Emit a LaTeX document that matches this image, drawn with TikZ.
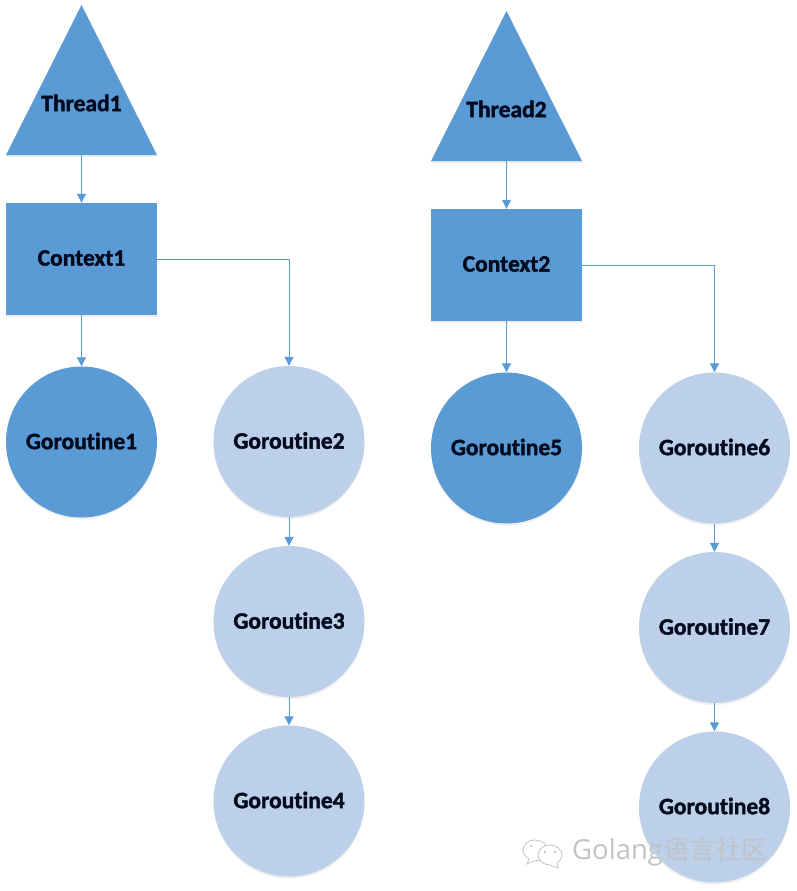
\documentclass[tikz,border=0pt]{standalone}
\usepackage{fontspec}
\setmainfont{Carlito}[Ligatures=NoCommon,BoldFeatures={FakeBold=1.6}]
\newfontfamily\wmfont{Open Sans}
\newfontfamily\wmcjk{Noto Sans CJK SC}
\usetikzlibrary{arrows.meta,shadows}
\definecolor{dk}{HTML}{5B9BD5}
\definecolor{lt}{HTML}{BDD0E9}
\definecolor{ink}{HTML}{020A1E}
\definecolor{wm}{HTML}{C0C4C8}
\tikzset{
  softshadow/.style={general shadow={fill=black!60,opacity=.10,shadow xshift=0pt,shadow yshift=-2pt}},
  lab/.style={font=\fontsize{23.5}{26}\selectfont\bfseries,text=ink,inner sep=0pt,yshift=1pt},
  darkgo/.style={circle,fill=dk,minimum size=151pt,inner sep=0pt,softshadow},
  lightgo/.style={circle,fill=lt,minimum size=151pt,inner sep=0pt,softshadow},
  ctxbox/.style={rectangle,fill=dk,minimum width=151pt,minimum height=112pt,inner sep=0pt,softshadow},
  tri/.style={fill=dk,softshadow},
  conn/.style={draw=dk,line width=1pt,-{Triangle[width=9pt,length=9pt]}},
  wmline/.style={draw=wm,line width=.8pt,fill=white},
}
\begin{document}
\begin{tikzpicture}[x=1pt,y=-1pt]
\useasboundingbox (0,0) rectangle (796,891);
% triangles
\fill[tri] (81.5,5) -- (157,155) -- (6,155) -- cycle;
\fill[tri] (506.5,11) -- (582,161) -- (431,161) -- cycle;
\node[lab] (thread1) at (81.5,104) {Thread1};
\node[lab] (thread2) at (506.5,110) {Thread2};
\coordinate (t1b) at (81.5,155);
\coordinate (t2b) at (506.5,161);
% contexts
\node[ctxbox] (ctx1) at (81.5,259) {};
\node[lab] at (ctx1.center) {Context1};
\node[ctxbox] (ctx2) at (506.5,265) {};
\node[lab] at (ctx2.center) {Context2};
% goroutines
\node[darkgo] (g1) at (81.5,442) {};
\node[lightgo] (g2) at (289,441.5) {};
\node[lightgo] (g3) at (289,621.5) {};
\node[lightgo] (g4) at (289,801) {};
\node[darkgo] (g5) at (506.5,448) {};
\node[lightgo] (g6) at (714.5,448) {};
\node[lightgo] (g7) at (714.5,627.5) {};
\node[lightgo] (g8) at (714.5,807) {};
\foreach \n/\t in {g1/Goroutine1,g2/Goroutine2,g3/Goroutine3,g4/Goroutine4,g5/Goroutine5,g6/Goroutine6,g7/Goroutine7,g8/Goroutine8}
  \node[lab] at (\n.center) {\t};
% connectors
\draw[conn] (t1b) -- (ctx1.north);
\draw[conn] (t2b) -- (ctx2.north);
\draw[conn] (ctx1.south) -- (g1.north);
\draw[conn] (ctx2.south) -- (g5.north);
\draw[conn] (ctx1.east) -| (g2.north);
\draw[conn] (ctx2.east) -| (g6.north);
\draw[conn] (g2.south) -- (g3.north);
\draw[conn] (g3.south) -- (g4.north);
\draw[conn] (g6.south) -- (g7.north);
\draw[conn] (g7.south) -- (g8.north);
% watermark
\draw[wmline] (535,840) .. controls (527,840) and (523,846) .. (523,850) .. controls (523,854) and (526,857) .. (529,859) -- (527,864) -- (534,861) -- (540,860) .. controls (546,859) and (548,855) .. (548,851) .. controls (548,845) and (542,840) .. (535,840) -- cycle;
\draw[wmline] (550,845) .. controls (543,845) and (538,850) .. (538,855) .. controls (538,861) and (544,865) .. (550,865) -- (558,868) -- (557,863) .. controls (560,861) and (562,858) .. (562,855) .. controls (562,850) and (557,845) .. (550,845) -- cycle;
\fill[wm] (545,852) circle (1.4pt) (555,852) circle (1.4pt) (531,846) circle (1.2pt);
\node[anchor=base west,inner sep=0pt,text=wm] (wmark) at (572,859)
  {\fontsize{27.5}{30}\selectfont\wmfont Golang\wmcjk\fontsize{26}{30}\selectfont 语言社区};
\end{tikzpicture}
\end{document}
